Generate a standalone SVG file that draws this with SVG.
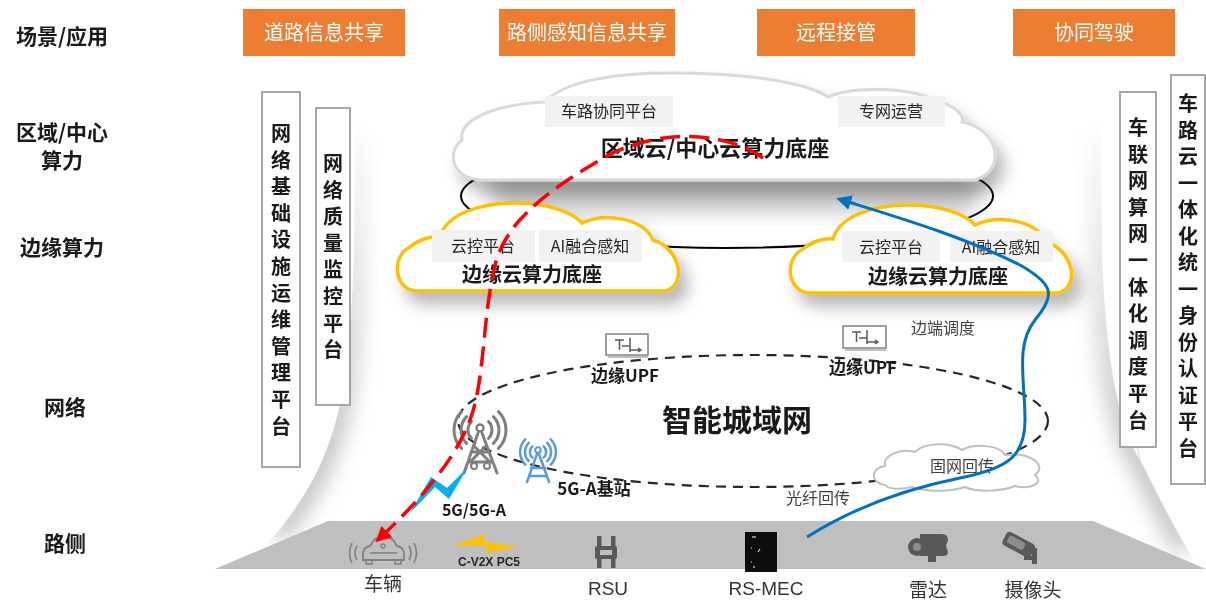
<svg xmlns="http://www.w3.org/2000/svg" width="1206" height="603" viewBox="0 0 1206 603">
  <style>
    .side { font-family: "Noto Sans CJK SC", sans-serif; font-size: 21px; font-weight: bold; fill: #1a1a1a; text-anchor: middle; }
    .scene { font-family: "Noto Sans CJK SC", sans-serif; font-size: 20px; fill: #ffffff; text-anchor: middle; }
    .vtext { font-family: "Noto Sans CJK SC", sans-serif; font-size: 20px; font-weight: bold; fill: #1a1a1a; text-anchor: middle; }
    .vbox { fill: #ffffff; stroke: #a6a6a6; stroke-width: 2; }
    .tag { fill: #f2f2f2; }
    .tagtext { font-family: "Noto Sans CJK SC", sans-serif; font-size: 16px; fill: #262626; text-anchor: middle; }
    .title { font-family: "Noto Sans CJK SC", sans-serif; font-weight: bold; fill: #1a1a1a; text-anchor: middle; }
    .small { font-family: "Noto Sans CJK SC", sans-serif; font-size: 16px; fill: #404040; text-anchor: middle; }
    .road { font-family: "Noto Sans CJK SC", "Liberation Sans", sans-serif; font-size: 19px; fill: #333333; text-anchor: middle; }
    .bold { font-family: "Noto Sans CJK SC", sans-serif; font-weight: bold; fill: #1a1a1a; text-anchor: middle; }
    .edgecloud { fill: #ffffff; stroke: #ffc000; stroke-width: 3.5; }
    .grey-tower { fill: none; stroke: #7f7f7f; stroke-width: 3; stroke-linecap: round; }
    .blue-tower { fill: none; stroke: #5b9bd5; stroke-width: 2.5; stroke-linecap: round; }
    .upf { fill: #ffffff; stroke: #7f7f7f; stroke-width: 1.5; }
    .upfglyph { fill: none; stroke: #595959; stroke-width: 1.5; }
    .wall { fill: none; stroke: #c4c4c4; stroke-width: 24; }
  </style>
  <defs>
    <filter id="soft" x="-30%" y="-30%" width="160%" height="160%">
      <feGaussianBlur stdDeviation="10"/>
    </filter>
    <filter id="cloudShadow" x="-20%" y="-30%" width="150%" height="180%">
      <feGaussianBlur in="SourceAlpha" stdDeviation="8"/>
      <feOffset dx="8" dy="12" result="b"/>
      <feFlood flood-color="#000000" flood-opacity="0.28"/>
      <feComposite in2="b" operator="in" result="s"/>
      <feMerge><feMergeNode in="s"/><feMergeNode in="SourceGraphic"/></feMerge>
    </filter>
    <linearGradient id="wallFade" x1="0" y1="0" x2="0" y2="1">
      <stop offset="0" stop-color="#ffffff" stop-opacity="0"/>
      <stop offset="0.45" stop-color="#ffffff" stop-opacity="0.6"/>
      <stop offset="0.75" stop-color="#ffffff" stop-opacity="1"/>
    </linearGradient>
    <mask id="wallMask" maskUnits="userSpaceOnUse" x="0" y="0" width="1206" height="603">
      <rect x="0" y="100" width="1206" height="460" fill="url(#wallFade)"/>
    </mask>
    <marker id="redHead" viewBox="0 0 10 10" refX="6" refY="5" markerWidth="4.5" markerHeight="4.5" orient="auto" markerUnits="strokeWidth">
      <path d="M0,0 L10,5 L0,10 Z" fill="#ff0000"/>
    </marker>
    <marker id="blueHead" viewBox="0 0 10 10" refX="6" refY="5" markerWidth="5" markerHeight="5" orient="auto" markerUnits="strokeWidth">
      <path d="M0,0 L10,5 L0,10 Z" fill="#0070c0"/>
    </marker>
    <path id="edgeCloudShape" d="M415,291 C395,289 390,257 410,247 C418,240 430,236 440,237 C446,215 478,203 515,203 C548,203 572,212 582,223 C605,212 643,218 653,240 C680,248 688,285 665,291 Z"/>
  </defs>

  <rect width="1206" height="603" fill="#ffffff"/>

  <!-- soft funnel walls -->
  <g id="backdrop">
    <g mask="url(#wallMask)">
      <path class="wall" d="M356,130 L354,250 C352,330 345,400 330,440 C318,475 300,505 276,534" filter="url(#soft)"/>
      <path class="wall" d="M1100,130 L1102,250 C1105,360 1120,430 1140,460 C1155,490 1170,520 1186,548" filter="url(#soft)"/>
    </g>
    <path d="M0,0 L356,0 L356,70 L354,250 C352,330 345,400 330,440 C318,475 300,505 276,534 L200,603 L0,603 Z" fill="#ffffff"/>
    <path d="M1206,0 L1100,0 L1100,70 L1102,250 C1105,360 1120,430 1140,460 C1155,490 1170,520 1186,548 L1206,580 Z" fill="#ffffff"/>
    <path d="M1128,410 C1135,430 1137,445 1140,460 C1155,490 1170,520 1186,548" fill="none" stroke="#dcdcdc" stroke-width="1"/>
  </g>

  <!-- row labels -->
  <g id="row-labels">
    <text class="side" x="62" y="44">场景/应用</text>
    <text class="side" x="62" y="140">区域/中心</text>
    <text class="side" x="62" y="168">算力</text>
    <text class="side" x="62" y="255">边缘算力</text>
    <text class="side" x="65" y="415">网络</text>
    <text class="side" x="65" y="551">路侧</text>
  </g>

  <!-- scenario boxes -->
  <g id="scene-1"><rect x="243" y="9" width="162" height="47" fill="#ed7d31"/><text class="scene" x="324" y="40">道路信息共享</text></g>
  <g id="scene-2"><rect x="499" y="9" width="176" height="47" fill="#ed7d31"/><text class="scene" x="587" y="40">路侧感知信息共享</text></g>
  <g id="scene-3"><rect x="757" y="9" width="158" height="47" fill="#ed7d31"/><text class="scene" x="836" y="40">远程接管</text></g>
  <g id="scene-4"><rect x="1013" y="9" width="162" height="47" fill="#ed7d31"/><text class="scene" x="1094" y="40">协同驾驶</text></g>

  <!-- vertical platform bars -->
  <g id="ops-platform">
    <rect class="vbox" x="262" y="92" width="38" height="375"/>
    <text class="vtext"><tspan x="281" y="141">网</tspan><tspan x="281" dy="26.6">络</tspan><tspan x="281" dy="26.6">基</tspan><tspan x="281" dy="26.6">础</tspan><tspan x="281" dy="26.6">设</tspan><tspan x="281" dy="26.6">施</tspan><tspan x="281" dy="26.6">运</tspan><tspan x="281" dy="26.6">维</tspan><tspan x="281" dy="26.6">管</tspan><tspan x="281" dy="26.6">理</tspan><tspan x="281" dy="26.6">平</tspan><tspan x="281" dy="26.6">台</tspan></text>
  </g>
  <g id="quality-platform">
    <rect class="vbox" x="316" y="108" width="34" height="297"/>
    <text class="vtext"><tspan x="333" y="171">网</tspan><tspan x="333" dy="26.6">络</tspan><tspan x="333" dy="26.6">质</tspan><tspan x="333" dy="26.6">量</tspan><tspan x="333" dy="26.6">监</tspan><tspan x="333" dy="26.6">控</tspan><tspan x="333" dy="26.6">平</tspan><tspan x="333" dy="26.6">台</tspan></text>
  </g>
  <g id="dispatch-platform">
    <rect class="vbox" x="1120" y="92" width="36" height="355"/>
    <text class="vtext"><tspan x="1138" y="135">车</tspan><tspan x="1138" dy="26.6">联</tspan><tspan x="1138" dy="26.6">网</tspan><tspan x="1138" dy="26.6">算</tspan><tspan x="1138" dy="26.6">网</tspan><tspan x="1138" dy="26.6">一</tspan><tspan x="1138" dy="26.6">体</tspan><tspan x="1138" dy="26.6">化</tspan><tspan x="1138" dy="26.6">调</tspan><tspan x="1138" dy="26.6">度</tspan><tspan x="1138" dy="26.6">平</tspan><tspan x="1138" dy="26.6">台</tspan></text>
  </g>
  <g id="identity-platform">
    <rect class="vbox" x="1171" y="75" width="34" height="409"/>
    <text class="vtext"><tspan x="1188" y="111">车</tspan><tspan x="1188" dy="26.5">路</tspan><tspan x="1188" dy="26.5">云</tspan><tspan x="1188" dy="26.5">一</tspan><tspan x="1188" dy="26.5">体</tspan><tspan x="1188" dy="26.5">化</tspan><tspan x="1188" dy="26.5">统</tspan><tspan x="1188" dy="26.5">一</tspan><tspan x="1188" dy="26.5">身</tspan><tspan x="1188" dy="26.5">份</tspan><tspan x="1188" dy="26.5">认</tspan><tspan x="1188" dy="26.5">证</tspan><tspan x="1188" dy="26.5">平</tspan><tspan x="1188" dy="26.5">台</tspan></text>
  </g>

  <!-- compute ring linking the cloud tiers -->
  <g id="compute-ring">
    <ellipse cx="727" cy="196" rx="266" ry="52" fill="none" stroke="#000000" stroke-width="2"/>
    <rect x="490" y="168" width="490" height="44" rx="20" fill="#9a9a9a" opacity="0.55" filter="url(#soft)"/>
  </g>

  <!-- regional / central cloud -->
  <g id="central-cloud">
    <path d="M480,180 C452,178 446,152 462,140 C458,118 500,104 545,102 C565,80 620,72 680,73 C750,74 805,82 828,97 C850,87 905,86 935,100 C955,106 965,115 962,122 C998,128 1008,170 975,180 Z" fill="#ffffff" stroke="#d9d9d9" stroke-width="3" filter="url(#cloudShadow)"/>
    <rect class="tag" x="545" y="96" width="128" height="31"/>
    <text class="tagtext" x="609" y="117">车路协同平台</text>
    <rect class="tag" x="838" y="96" width="107" height="31"/>
    <text class="tagtext" x="891" y="117">专网运营</text>
    <text class="title" x="715" y="156" font-size="22">区域云/中心云算力底座</text>
  </g>

  <!-- edge clouds -->
  <g id="edge-cloud-left">
    <use href="#edgeCloudShape" class="edgecloud" filter="url(#cloudShadow)"/>
    <rect class="tag" x="432" y="230" width="103" height="32"/>
    <text class="tagtext" x="483" y="252">云控平台</text>
    <rect class="tag" x="539" y="230" width="103" height="32"/>
    <text class="tagtext" x="590" y="252">AI融合感知</text>
    <text class="title" x="532" y="282" font-size="20">边缘云算力底座</text>
  </g>
  <g id="edge-cloud-right">
    <use href="#edgeCloudShape" class="edgecloud" transform="translate(393,2)" filter="url(#cloudShadow)"/>
    <rect class="tag" x="842" y="231" width="98" height="31"/>
    <text class="tagtext" x="891" y="253">云控平台</text>
    <rect class="tag" x="950" y="231" width="103" height="31"/>
    <text class="tagtext" x="1001" y="253">AI融合感知</text>
    <text class="title" x="938" y="284" font-size="20">边缘云算力底座</text>
  </g>

  <!-- metro network -->
  <g id="metro-network">
    <ellipse cx="753" cy="421" rx="295" ry="66" fill="none" stroke="#262626" stroke-width="2.2" stroke-dasharray="10 7"/>
    <text class="bold" x="737" y="431" font-size="30">智能城域网</text>
  </g>

  <g id="fixed-backhaul">
    <path d="M885,485 C870,483 870,468 885,466 C883,455 900,448 915,452 C925,442 950,442 962,450 C975,443 1000,445 1005,455 C1030,452 1048,465 1035,475 C1045,483 1030,490 1015,486 C1000,492 975,492 965,487 C950,492 925,492 912,487 C900,490 888,489 885,485 Z" fill="#ffffff" stroke="#bfbfbf" stroke-width="2"/>
    <text class="small" x="962" y="472" font-size="17">固网回传</text>
  </g>
  <text class="small" x="818" y="504" font-size="17">光纤回传</text>

  <!-- edge UPF nodes -->
  <g id="upf-left">
    <rect class="upf" x="606" y="334" width="42" height="21"/>
    <line x1="608" y1="357" x2="648" y2="357" stroke="#bfbfbf" stroke-width="2"/>
    <path class="upfglyph" d="M615,340 L624,340 M619.5,340 L619.5,350 M622,346 L630,346 M630,338 L630,352 M630,350 L641,350 M638,348 L641,350 L638,352"/>
    <text class="bold" x="625" y="382" font-size="17">边缘UPF</text>
  </g>
  <g id="upf-right">
    <rect class="upf" x="843" y="326" width="43" height="22"/>
    <line x1="845" y1="350" x2="886" y2="350" stroke="#bfbfbf" stroke-width="2"/>
    <path class="upfglyph" d="M852,332 L861,332 M856.5,332 L856.5,342 M859,338 L867,338 M867,330 L867,344 M867,342 L878,342 M875,340 L878,342 L875,344"/>
    <text class="bold" x="863" y="374" font-size="17">边缘UPF</text>
  </g>
  <text class="small" x="943" y="334">边端调度</text>

  <!-- base stations -->
  <g id="tower-5g">
    <circle cx="480" cy="428" r="3.5" fill="none" stroke="#7f7f7f" stroke-width="2.5"/>
    <path class="grey-tower" d="M478,433 L464,473 M482,433 L497,473 M472,452 L489,452 M469,462 L492,462 M474,446 L490,462 M486,446 L470,462"/>
    <circle cx="474" cy="466" r="3" fill="#ffffff" stroke="#7f7f7f" stroke-width="2"/>
    <circle cx="487" cy="466" r="3" fill="#ffffff" stroke="#7f7f7f" stroke-width="2"/>
    <path class="grey-tower" d="M471.5,421.5 A12,12 0 0 0 471.5,438.5 M466.6,416.6 A19,19 0 0 0 466.6,443.4 M461.6,411.6 A26,26 0 0 0 461.6,448.4 M488.5,421.5 A12,12 0 0 1 488.5,438.5 M493.4,416.6 A19,19 0 0 1 493.4,443.4 M498.4,411.6 A26,26 0 0 1 498.4,448.4"/>
  </g>
  <g id="tower-5ga">
    <circle cx="538" cy="450" r="2.8" fill="none" stroke="#5b9bd5" stroke-width="2"/>
    <path class="blue-tower" d="M537,454 L527,482 M539,454 L549,482 M531,468 L545,468 M529,476 L547,476"/>
    <path class="blue-tower" d="M532.3,446.3 A8,8 0 0 0 532.3,457.7 M528.8,442.8 A13,13 0 0 0 528.8,461.2 M525.3,439.3 A18,18 0 0 0 525.3,464.7 M543.7,446.3 A8,8 0 0 1 543.7,457.7 M547.2,442.8 A13,13 0 0 1 547.2,461.2 M550.7,439.3 A18,18 0 0 1 550.7,464.7"/>
  </g>
  <polygon points="410,513 431,477 447,488 468,467 449,499 435,487" fill="#00b0f0"/>
  <text class="bold" x="474" y="516" font-size="16">5G/5G-A</text>
  <text class="bold" x="594" y="495" font-size="17">5G-A基站</text>

  <!-- roadside layer -->
  <g id="roadside">
    <polygon points="328,521 1093,521 1206,569 215,569" fill="#bfbfbf"/>
  </g>

  <g id="vehicle">
    <path d="M363,560 L363,553 Q364,547 370,546 L374,540 Q376,538 380,538 L388,538 Q391,538 393,540 L397,546 Q403,547 404,553 L404,560 Z" fill="none" stroke="#808080" stroke-width="1.8"/>
    <path d="M366,560 L366,564 L372,564 L372,560 M395,560 L395,564 L401,564 L401,560 M370,553 L397,553" fill="none" stroke="#808080" stroke-width="1.6"/>
    <circle cx="383" cy="546" r="2" fill="none" stroke="#808080" stroke-width="1.4"/>
    <path d="M357,546 Q353,553 357,560 M352,543 Q347,553 352,563 M409,546 Q413,553 409,560 M414,543 Q419,553 414,563" fill="none" stroke="#808080" stroke-width="1.6"/>
    <text class="road" x="383" y="591">车辆</text>
  </g>

  <g id="pc5">
    <polygon points="453,545 486,534 483,541 519,547 485,553 489,546" fill="#ffc000"/>
    <text x="489" y="566" font-family="Liberation Sans, sans-serif" font-size="12" font-weight="bold" fill="#262626" text-anchor="middle">C-V2X PC5</text>
  </g>

  <g id="rsu">
    <rect x="597" y="536" width="4.5" height="11" fill="#595959"/>
    <rect x="611" y="536" width="4.5" height="11" fill="#595959"/>
    <rect x="595" y="546" width="22" height="13" rx="2" fill="#595959"/>
    <rect x="600" y="550" width="12" height="5" fill="#bfbfbf"/>
    <rect x="597" y="558" width="4.5" height="10" fill="#595959"/>
    <rect x="611" y="558" width="4.5" height="10" fill="#595959"/>
    <text x="608" y="595" font-family="Liberation Sans, sans-serif" font-size="19" fill="#333333" text-anchor="middle">RSU</text>
  </g>

  <g id="rs-mec">
    <rect x="745" y="532" width="32" height="40" fill="#0d0d0d"/>
    <path d="M752,537 L756,537 M751,548 L752,548 M758,552 L760,549 M751,562 L752,562 M753,567 L755,567" stroke="#ffffff" stroke-width="1" fill="none"/>
    <text x="766" y="595" font-family="Liberation Sans, sans-serif" font-size="19" fill="#333333" text-anchor="middle">RS-MEC</text>
  </g>

  <g id="radar">
    <path d="M920,534 L942,534 Q948,534 948,540 L946,546 L948,552 Q948,556 943,556 L936,556 L936,562 L928,562 L928,556 L920,556 Z" fill="#595959"/>
    <circle cx="917" cy="547" r="9" fill="#595959"/>
    <circle cx="917" cy="547" r="4" fill="#8c8c8c"/>
    <text class="road" x="928" y="597">雷达</text>
  </g>

  <g id="camera">
    <g transform="rotate(28 1018 546)">
      <rect x="1002" y="537" width="32" height="15" rx="4" fill="#595959"/>
      <rect x="1006" y="540" width="18" height="8" rx="2" fill="#8c8c8c"/>
    </g>
    <path d="M1024,556 L1032,556 L1032,548 L1037,548 L1037,564 L1032,564 L1032,560 L1024,560 Z" fill="#595959"/>
    <text class="road" x="1033" y="597">摄像头</text>
  </g>

  <!-- flows -->
  <g id="connectors">
    <path d="M763,158 C720,128 650,130 600,160 C540,195 505,225 495,265 C482,320 485,380 470,420 C455,460 420,500 380,538" fill="none" stroke="#ff0000" stroke-width="3.5" stroke-dasharray="20 9" marker-end="url(#redHead)"/>
    <path d="M807,537 C850,510 900,490 960,478 C1010,468 1025,455 1025,420 C1025,380 1015,345 1035,320 C1055,295 1055,285 1020,265 C960,235 890,215 842,200" fill="none" stroke="#0070c0" stroke-width="3" marker-end="url(#blueHead)"/>
  </g>
</svg>
